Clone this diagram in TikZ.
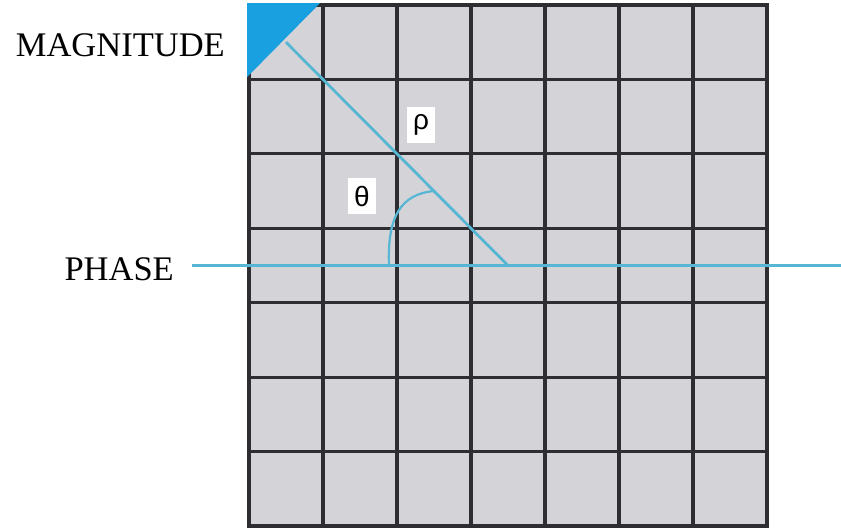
\documentclass[tikz,border=0pt]{standalone}
\usepackage{fontspec}
\setmainfont{Liberation Serif}
\newfontfamily\labelfont{Liberation Sans}
\definecolor{cellgray}{RGB}{212,212,216}
\definecolor{gridline}{RGB}{45,45,50}
\definecolor{tri}{RGB}{24,160,224}
\definecolor{cyanline}{RGB}{86,182,212}
\begin{document}
\begin{tikzpicture}[x=1pt,y=-1pt,
  gridl/.style={draw=gridline,line width=3.1pt,line cap=rect},
  cline/.style={draw=cyanline,line width=2.8pt},
  arcline/.style={draw=cyanline,line width=2.2pt},
  title/.style={font=\fontsize{34.5}{42}\selectfont,inner sep=0pt},
  sym/.style={fill=white,font=\labelfont\fontsize{28}{32}\selectfont,inner sep=0pt,minimum width=28pt,minimum height=36pt}]
\useasboundingbox (0,0) rectangle (841,532);
% cells
\fill[cellgray] (249,5) rectangle (767,526);
% grid
\foreach \x in {249,323,397,471,545,619,693,767}
  \draw[gridl] (\x,5) -- (\x,526);
\foreach \k in {0,...,7}
  \draw[gridl] (249,{5+74.43*\k}) -- (767,{5+74.43*\k});
% blue corner triangle
\fill[tri] (247.2,3.2) -- (320,3.2) -- (247.2,77) -- cycle;
% coordinates
\coordinate (c0) at (286,42.2);
\coordinate (pend) at (508,265.5);
\coordinate (pl) at (192,265.5);
\coordinate (pr) at (841,265.5);
\coordinate (as) at (389,265.5);
\coordinate (ae) at (434,191);
% lines
\draw[cline] (pl) -- (pr);
\draw[cline] (c0) -- (pend);
\draw[arcline] (as) .. controls (387,215) and (402,194) .. (ae);
% labels
\node[title,anchor=base east] (mag) at (225,57) {MAGNITUDE};
\node[title,anchor=base east] (phase) at (174,280) {PHASE};
\node[sym] (rho) at (421,125) {ρ};
\node[sym] (theta) at (362,196) {θ};
\end{tikzpicture}
\end{document}
